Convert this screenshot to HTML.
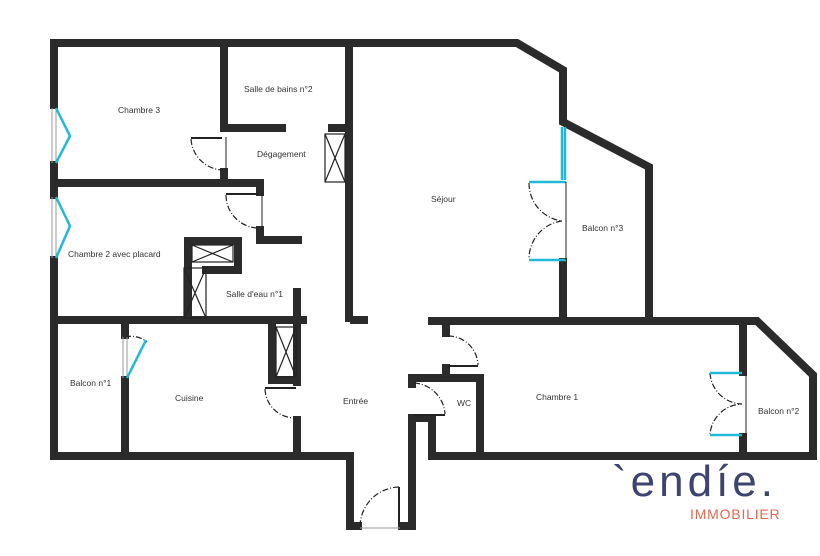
<!DOCTYPE html>
<html><head><meta charset="utf-8"><style>
html,body{margin:0;padding:0;background:#fff;}
svg{display:block}
text{font-family:"Liberation Sans",sans-serif;font-size:8.5px;fill:#333}
</style></head><body>
<svg width="820" height="556" viewBox="0 0 820 556" xmlns="http://www.w3.org/2000/svg">
<g stroke="#2b2b2b" stroke-width="8" fill="none" stroke-linecap="square" stroke-linejoin="miter">
<polyline points="54,105 54,43 517,43 563,70 563,122 649,167 649,318"/>
<line x1="54" y1="165" x2="54" y2="195"/>
<polyline points="54,260 54,456 350,456 350,526 358,526"/>
<polyline points="402,526 412,526 412,418 432,418 432,456 813,456 813,375 757,321 432,321"/>
<line x1="563" y1="262" x2="563" y2="318"/>
<line x1="54" y1="183" x2="260" y2="183"/>
<line x1="224" y1="43" x2="224" y2="128"/>
<line x1="224" y1="128" x2="282" y2="128"/>
<line x1="224" y1="172" x2="224" y2="183"/>
<line x1="260" y1="183" x2="260" y2="192"/>
<line x1="260" y1="230" x2="260" y2="240"/>
<line x1="260" y1="240" x2="298" y2="240"/>
<line x1="349" y1="43" x2="349" y2="318"/>
<line x1="332" y1="128" x2="349" y2="128"/>
<line x1="354" y1="320" x2="364" y2="320"/>
<polyline points="188,320 188,241 238,241 238,270 206,270"/>
<line x1="297" y1="292" x2="297" y2="320"/>
<line x1="58" y1="320" x2="303" y2="320"/>
<line x1="125" y1="320" x2="125" y2="335"/>
<line x1="125" y1="380" x2="125" y2="456"/>
<polyline points="272,325 272,380 297,380"/>
<line x1="297" y1="320" x2="297" y2="382"/>
<line x1="297" y1="420" x2="297" y2="456"/>
<line x1="446" y1="321" x2="446" y2="333"/>
<line x1="446" y1="368" x2="446" y2="378"/>
<polyline points="412,384 412,378 480,378 480,456"/>
<line x1="743" y1="321" x2="743" y2="372"/>
<line x1="743" y1="437" x2="743" y2="456"/>
</g>
<g stroke="#222" stroke-width="1.2" fill="none">
<rect x="192" y="245" width="41" height="17"/><path d="M192 245L233 262M233 245L192 262"/>
<rect x="184" y="268" width="22" height="50"/><path d="M184 268L206 318M206 268L184 318"/>
<rect x="276" y="327" width="20" height="50"/><path d="M276 327L296 377M296 327L276 377"/>
<rect x="325" y="134" width="20" height="48"/><path d="M325 134L345 182M345 134L325 182"/>
</g>
<g stroke="#222" stroke-width="1.2" fill="none" stroke-dasharray="6,2,1,2">
<path d="M191 139 A33 33 0 0 0 222 170"/>
<path d="M226 195 A33 33 0 0 0 258 228"/>
<path d="M265 389 A30 30 0 0 0 296 418"/>
<path d="M399 487 A40 40 0 0 0 360 526" />
<path d="M448 336 A30 30 0 0 1 478 365"/>
<path d="M414 383 A33 33 0 0 1 445 414"/>
<path d="M529 183 A38 38 0 0 0 562 221 A38 38 0 0 0 529 259"/>
<path d="M710 373 A33 33 0 0 0 742 404 A33 33 0 0 0 710 434"/>
<path d="M125 337 A25 25 0 0 1 147 342"/>
</g>
<g stroke="#222" stroke-width="2" fill="none">
<line x1="191" y1="138" x2="222" y2="138"/>
<line x1="226" y1="194" x2="258" y2="194"/>
<line x1="265" y1="388" x2="296" y2="388"/>
<line x1="399" y1="487" x2="399" y2="526"/>
<line x1="448" y1="366" x2="478" y2="366"/>
<line x1="414" y1="415" x2="445" y2="415"/>
</g>
<g stroke="#999" stroke-width="1" fill="none">
<line x1="52" y1="108" x2="52" y2="163"/><line x1="56" y1="108" x2="56" y2="163"/>
<line x1="52" y1="197" x2="52" y2="258"/><line x1="56" y1="197" x2="56" y2="258"/>
<line x1="123" y1="337" x2="123" y2="378"/><line x1="127" y1="337" x2="127" y2="378"/>
<line x1="360" y1="528" x2="400" y2="528"/>
</g>
<g stroke="#22b8d8" stroke-width="2.5" fill="none">
<path d="M56 108L70 136L56 163"/>
<path d="M56 197L70 226L56 258"/>
<path d="M127 378L146 340"/>
<line x1="562" y1="127" x2="562" y2="180"/><line x1="565" y1="127" x2="565" y2="180"/>
<line x1="529" y1="182" x2="566" y2="182"/>
<line x1="529" y1="260" x2="566" y2="260"/>
<line x1="710" y1="373" x2="742" y2="373"/>
<line x1="710" y1="435" x2="742" y2="435"/>
</g>
<g stroke="#222" stroke-width="1"><line x1="566" y1="182" x2="566" y2="260"/><line x1="746" y1="373" x2="746" y2="435"/><line x1="262" y1="192" x2="262" y2="230"/><line x1="226" y1="137" x2="226" y2="170"/></g>
<text x="118" y="113">Chambre 3</text>
<text x="244" y="92">Salle de bains n°2</text>
<text x="257" y="157">Dégagement</text>
<text x="431" y="202">Séjour</text>
<text x="582" y="231">Balcon n°3</text>
<text x="68" y="257">Chambre 2 avec placard</text>
<text x="226" y="297">Salle d'eau n°1</text>
<text x="70" y="386">Balcon n°1</text>
<text x="175" y="401">Cuisine</text>
<text x="343" y="404">Entrée</text>
<text x="457" y="406">WC</text>
<text x="536" y="400">Chambre 1</text>
<text x="758" y="414">Balcon n°2</text>
<text x="612" y="496" style="font-size:44px;fill:#3d4470;letter-spacing:4px">`endíe.</text>
<text x="690" y="519" style="font-size:14px;fill:#e0694f;letter-spacing:0.8px">IMMOBILIER</text>
</svg>
</body></html>
